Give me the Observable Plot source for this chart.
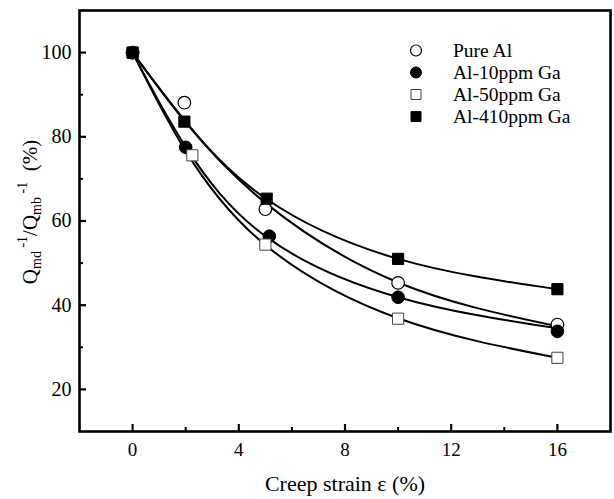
<!DOCTYPE html>
<html>
<head>
<meta charset="utf-8">
<script src="https://cdn.jsdelivr.net/npm/d3@7"></script>
<script src="https://cdn.jsdelivr.net/npm/@observablehq/plot@0.6"></script>
<style>
  html, body { margin: 0; padding: 0; background: #fff; }
  #chart { width: 614px; height: 499px; }
  #chart svg text { font-family: "Liberation Serif", "Times New Roman", serif !important; }
</style>
</head>
<body>
<div id="chart"></div>
<script>
// ---- data ----
const seriesNames = ["Pure Al", "Al-10ppm Ga", "Al-50ppm Ga", "Al-410ppm Ga"];

// measured points
const pureX = [0, 1.95, 5.0, 10.0, 16.0];
const pureY = [100, 88.1, 62.8, 45.3, 35.4];
const ga10X = [0, 2.0, 5.15, 10.0, 16.0];
const ga10Y = [100, 77.5, 56.4, 41.9, 33.8];
const ga50X = [0, 2.25, 5.0, 10.0, 16.0];
const ga50Y = [100, 75.6, 54.4, 36.8, 27.5];
const ga410X = [0, 1.95, 5.05, 10.0, 16.0];
const ga410Y = [100, 83.6, 65.3, 51.0, 43.8];

// fitted curves
const fitX = [0, 2, 5, 10, 16];
const pureFit = [100, 83.4, 64.3, 45.4, 35.0];
const ga10Fit = [100, 77.6, 56.4, 41.9, 34.5];
const ga50Fit = [100, 76.6, 54.3, 36.9, 27.5];
const ga410Fit = [100, 83.6, 65.4, 51.0, 43.8];

// axis ticks
const xMajor = [0, 4, 8, 12, 16];
const xMinor = [2, 6, 10, 14];
const yMajor = [20, 40, 60, 80, 100];
const yMinor = [30, 50, 70, 90];

const xTitle = "Creep strain ε (%)";

// ---- build tables ----
const pts = [];
[[pureX, pureY], [ga10X, ga10Y], [ga50X, ga50Y], [ga410X, ga410Y]].forEach(([xs, ys], i) => {
  xs.forEach((x, j) => pts.push({series: seriesNames[i], x, y: ys[j]}));
});
const fits = [];
[pureFit, ga10Fit, ga50Fit, ga410Fit].forEach((ys, i) => {
  fitX.forEach((x, j) => fits.push({series: seriesNames[i], x, y: ys[j]}));
});

const W = 614, H = 499;
const mL = 79, mR = 4, mT = 10, mB = 68;
const fw = W - mL - mR, fh = H - mT - mB;

const sym = {
  "Pure Al": {symbol: "circle", fill: "white", stroke: "black", sw: 1.2},
  "Al-10ppm Ga": {symbol: "circle", fill: "black", stroke: "black", sw: 1},
  "Al-50ppm Ga": {symbol: "square", fill: "white", stroke: "#444", sw: 1},
  "Al-410ppm Ga": {symbol: "square", fill: "black", stroke: "black", sw: 1}
};

const dotMarks = seriesNames.map(s => Plot.dot(pts.filter(d => d.series === s), {
  x: "x", y: "y", r: 6.3, symbol: sym[s].symbol, fill: sym[s].fill,
  stroke: sym[s].stroke, strokeWidth: sym[s].sw
}));

const plot = Plot.plot({
  width: W, height: H,
  marginLeft: mL, marginRight: mR, marginTop: mT, marginBottom: mB,
  style: {fontSize: "19px", color: "black", background: "white"},
  x: {domain: [-2, 18], label: null},
  y: {domain: [10, 110], label: null},
  marks: [
    Plot.line(fits, {x: "x", y: "y", z: "series", curve: "natural", stroke: "black", strokeWidth: 2}),
    ...dotMarks,
    Plot.tickX(xMajor, {x: d => d, insetTop: fh - 7, stroke: "black", strokeWidth: 2.2}),
    Plot.tickX(xMinor, {x: d => d, insetTop: fh - 4, stroke: "black", strokeWidth: 2}),
    Plot.tickY(yMajor, {y: d => d, insetRight: fw - 7, stroke: "black", strokeWidth: 2.2}),
    Plot.tickY(yMinor, {y: d => d, insetRight: fw - 4, stroke: "black", strokeWidth: 2}),
    Plot.axisX({ticks: xMajor, tickSize: 0, tickPadding: 11, label: null, fontSize: 19}),
    Plot.axisY({ticks: yMajor, tickSize: 0, tickPadding: 8, label: null, fontSize: 20}),
    Plot.text([xTitle], {text: d => d, frameAnchor: "bottom", dy: 59, fontSize: 22}),
    Plot.frame({stroke: "black", strokeWidth: 2.6})
  ]
});

document.getElementById("chart").appendChild(plot);

// y axis title with sub/superscripts
const svg = d3.select(plot);
const yt = svg.append("text")
  .attr("transform", "translate(37,212) rotate(-90)")
  .attr("text-anchor", "middle")
  .attr("font-size", 21)
  .attr("fill", "black");
yt.append("tspan").text("Q");
yt.append("tspan").attr("font-size", 14).attr("dy", 4).text("md");
yt.append("tspan").attr("font-size", 14).attr("dy", -14).text(" -1");
yt.append("tspan").attr("dy", 10).text("/Q");
yt.append("tspan").attr("font-size", 14).attr("dy", 4).text("mb");
yt.append("tspan").attr("font-size", 14).attr("dy", -14).text(" -1");
yt.append("tspan").attr("dy", 10).text("  (%)");

// legend
const lg = svg.append("g").attr("font-size", 19.5).attr("text-anchor", "start");
const rowY = [50.5, 72.5, 94.5, 116.5];
seriesNames.forEach((s, i) => {
  const sy = sym[s];
  const shape = sy.symbol === "circle" ? d3.symbolCircle : d3.symbolSquare;
  const size = sy.symbol === "circle" ? Math.PI * 5.5 * 5.5 : 100;
  lg.append("path")
    .attr("d", d3.symbol(shape, size)())
    .attr("transform", `translate(416,${rowY[i]})`)
    .attr("fill", sy.fill).attr("stroke", sy.stroke).attr("stroke-width", sy.sw);
  lg.append("text").attr("x", 453).attr("y", rowY[i]).attr("dy", "0.35em")
    .attr("text-anchor", "start").text(s);
});
</script>
</body>
</html>
